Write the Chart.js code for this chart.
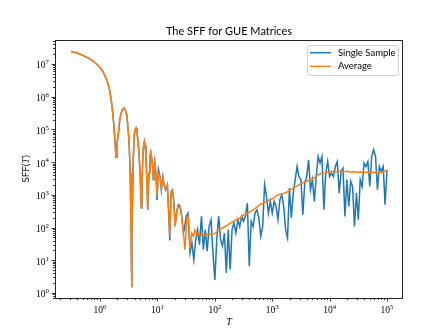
<!DOCTYPE html>
<html>
<head>
<meta charset="utf-8">
<script src="https://cdn.jsdelivr.net/npm/chart.js@4.4.0/dist/chart.umd.min.js"></script>
<style>
html, body { margin: 0; padding: 0; background: #fff; }
#wrap { width: 448px; height: 336px; }
</style>
</head>
<body>
<div id="wrap"><canvas id="sffChart" width="448" height="336"></canvas></div>
<script>
// early times: single sample and average lie on top of each other
const tEarly = [0.31, 0.4, 0.51, 0.63, 0.77, 0.9, 1.0, 1.1, 1.22, 1.33,
  1.44, 1.55, 1.64, 1.72, 1.78, 1.85, 1.9, 1.97, 2.09, 2.2,
  2.29, 2.45, 2.62, 2.8, 2.92, 3.05, 3.2, 3.35, 3.45, 3.53,
  3.56, 3.6, 3.7, 3.8, 3.95, 4.1, 4.24, 4.4, 4.6, 4.8,
  4.98, 5.15, 5.25, 5.37, 5.54, 5.7, 5.92, 6.1, 6.3, 6.55,
  6.76, 6.95, 7.14, 7.4, 7.64, 7.9, 8.17, 8.5, 8.7, 8.96,
  9.2, 9.46];
const sffEarly = [2.4e7, 2.15e7, 1.8e7, 1.5e7, 1.2e7, 9.5e6, 7.8e6, 6.2e6, 4.3e6, 3.0e6,
  1.9e6, 9e5, 4e5, 1.7e5, 7.6e4, 2.7e4, 1.4e4, 3.4e4, 7.6e4, 1.9e5,
  2.8e5, 4e5, 4.5e5, 3.6e5, 2.8e5, 1.2e5, 4.8e4, 4.6e3, 220, 6.5,
  1.5, 40, 1.5e3, 1.5e4, 6.8e4, 1e5, 1.1e5, 8e4, 4e4, 1.5e4,
  4.6e3, 890, 400, 1.8e3, 1.2e4, 3e4, 4.3e4, 3.2e4, 1.5e4, 2.9e3,
  350, 1.8e3, 4.6e3, 1.5e4, 2e4, 1.4e4, 7.4e3, 2.9e3, 6e3, 1.05e4,
  7e3, 3.6e3];

// single sample, later times
const tSampleLate = [9.84, 10.4, 11.1, 11.7, 12.4, 13, 13.9, 14.9, 15.7, 16.4,
  17.3, 18.2, 19.2, 20.3, 21.7, 23.2, 24.8, 26.5, 28.3, 29.5,
  31.62, 34.15, 36.87, 39.81, 42.99, 46.42, 50.12, 54.12, 58.43, 63.1,
  68.13, 73.56, 79.43, 85.77, 92.61, 100, 108, 116.6, 125.9, 135.9,
  146.8, 158.5, 171.1, 184.8, 199.5, 215.4, 232.6, 251.2, 271.2, 292.9,
  316.2, 341.5, 368.7, 398.1, 429.9, 464.2, 501.2, 541.2, 584.3, 631,
  681.3, 735.6, 794.3, 857.7, 926.1, 1000, 1080, 1166, 1259, 1359,
  1468, 1585, 1711, 1848, 1995, 2154, 2326, 2512, 2712, 2929,
  3162, 3415, 3687, 3981, 4299, 4642, 5012, 5412, 5843, 6310,
  6813, 7356, 7943, 8577, 9261, 10000, 10800, 11660, 12590, 13590,
  14680, 15850, 17110, 18480, 19950, 21540, 23260, 25120, 27120, 29290,
  31620, 34150, 36870, 39810, 42990, 46420, 50120, 54120, 58430, 63100,
  68130, 73560, 79430, 85770, 92610, 100000];
const sffSampleLate = [700, 5900, 3600, 1400, 3600, 2000, 1400, 2000, 275, 40,
  1260, 1400, 700, 110, 315, 500, 450, 220, 68, 90,
  219, 277, 17, 34, 10.4, 42, 86, 30, 219, 21,
  86, 19, 108, 173, 17, 2.5, 42, 219, 42, 27,
  68, 4.1, 86, 5.2, 86, 137, 68, 173, 108, 219,
  154, 219, 560, 6.5, 154, 108, 277, 350, 195, 54,
  108, 2000, 890, 277, 630, 277, 630, 440, 173, 705,
  1000, 440, 86, 48, 1600, 195, 1130, 2900, 7300, 3600,
  2900, 246, 2300, 3600, 11700, 1430, 2900, 630, 3600, 14800,
  9300, 14800, 350, 4600, 10400, 3600, 4600, 3600, 7300, 10400,
  1130, 5200, 6500, 219, 2900, 440, 2600, 1800, 108, 1130,
  173, 2900, 1800, 9300, 7300, 10400, 1800, 14800, 24000, 14800,
  1430, 7300, 5200, 7300, 500, 5800];

// average, later times
const tAverageLate = [9.84, 10.4, 11.1, 11.7, 12.4, 13, 13.9, 14.9, 15.7, 16.4,
  17.3, 18.2, 19.2, 20.3, 21.7, 23.2, 24.8, 26.5, 28.3, 30.2,
  32.3, 34.6, 37, 39.5, 42.3, 45, 48.3, 52, 56, 60,
  66, 72, 80, 88, 100, 110, 123, 140, 161, 185,
  211, 240, 275, 315, 360, 410, 470, 535, 610, 700,
  800, 920, 1050, 1200, 1370, 1570, 1790, 2050, 2340, 2680,
  3060, 3500, 4000, 4580, 5240, 6000, 6830, 7800, 8930, 10200,
  11700, 13400, 15300, 17500, 20000, 22900, 26200, 30000, 34300, 39200,
  44800, 51300, 58600, 67000, 76700, 87700, 95000, 100000];
const sffAverageLate = [900, 4500, 3300, 1600, 3000, 2200, 1500, 1900, 350, 55,
  1200, 1300, 650, 110, 300, 450, 420, 220, 70, 21,
  175, 220, 23, 68, 54, 85, 62, 70, 52, 66,
  58, 62, 60, 64, 66, 74, 89, 100, 113, 135,
  154, 175, 195, 240, 277, 300, 350, 420, 500, 560,
  630, 720, 790, 950, 1050, 1100, 1200, 1400, 1600, 1850,
  2100, 2400, 2600, 2900, 3200, 3800, 4400, 4600, 4800, 5100,
  5200, 5000, 5400, 5000, 5300, 4900, 5100, 4900, 5000, 4800,
  5000, 4800, 4900, 4800, 4900, 5000, 5600, 5300];

// tick labels (powers of ten)
const xTickValues = [1, 10, 100, 1000, 10000, 100000];
const yTickValues = [1, 10, 100, 1000, 10000, 100000, 1000000, 10000000];

const tSample = tEarly.concat(tSampleLate);
const sffSample = sffEarly.concat(sffSampleLate);
const tAverage = tEarly.concat(tAverageLate);
const sffAverage = sffEarly.concat(sffAverageLate);

function toPoints(xs, ys) {
  return xs.map(function (v, i) { return { x: v, y: ys[i] }; });
}

const BLUE = '#1f77b4';
const ORANGE = '#ff7f0e';
const SANS = 'Lato, "DejaVu Sans", sans-serif';
const SERIF = '"Liberation Serif", "DejaVu Serif", serif';

// "10" with a raised exponent
function drawPow(ctx, exp, x, baseY, align) {
  ctx.font = '9.5px ' + SERIF;
  var wb = ctx.measureText('10').width;
  ctx.font = '6.8px ' + SERIF;
  var we = ctx.measureText(String(exp)).width;
  var total = wb + we;
  var left = align === 'center' ? x - total / 2 : x - total;
  ctx.textAlign = 'left';
  ctx.textBaseline = 'alphabetic';
  ctx.font = '9.5px ' + SERIF;
  ctx.fillText('10', left, baseY);
  ctx.font = '6.8px ' + SERIF;
  ctx.fillText(String(exp), left + wb, baseY - 4.2);
}

function drawLogTicks(ctx, scale, horizontal, area) {
  var lo = Math.floor(Math.log10(scale.min));
  var hi = Math.ceil(Math.log10(scale.max));
  ctx.beginPath();
  for (var e = lo; e <= hi; e++) {
    for (var m = 1; m <= 9; m++) {
      var v = m * Math.pow(10, e);
      if (v < scale.min || v > scale.max) continue;
      var p = Math.round(scale.getPixelForValue(v)) + 0.5;
      var len = m === 1 ? 3.5 : 2;
      if (horizontal) {
        ctx.moveTo(p, area.bottom);
        ctx.lineTo(p, area.bottom + len);
      } else {
        ctx.moveTo(area.left, p);
        ctx.lineTo(area.left - len, p);
      }
    }
  }
  ctx.stroke();
}

const decorPlugin = {
  id: 'decor',
  afterDatasetsDraw: function (chart) {
    var ctx = chart.ctx, a = chart.chartArea;
    var xs = chart.scales.x, ys = chart.scales.y;
    ctx.save();
    ctx.fillStyle = '#000';
    ctx.strokeStyle = '#000';
    ctx.lineWidth = 0.8;
    // ticks
    drawLogTicks(ctx, xs, true, a);
    drawLogTicks(ctx, ys, false, a);
    // frame
    ctx.lineWidth = 1;
    ctx.strokeStyle = '#222';
    ctx.strokeRect(Math.round(a.left) + 0.5, Math.round(a.top) + 0.5,
      Math.round(a.right - a.left) - 1, Math.round(a.bottom - a.top));

    // tick labels
    xTickValues.forEach(function (v) {
      drawPow(ctx, Math.round(Math.log10(v)), xs.getPixelForValue(v), a.bottom + 15, 'center');
    });
    yTickValues.forEach(function (v) {
      drawPow(ctx, Math.round(Math.log10(v)), a.left - 6, ys.getPixelForValue(v) + 4.5, 'right');
    });

    // title
    ctx.textAlign = 'center';
    ctx.textBaseline = 'middle';
    ctx.font = '11px ' + SANS;
    ctx.fillText('The SFF for GUE Matrices', (a.left + a.right) / 2, 31);

    // x label
    ctx.font = 'italic 10px ' + SERIF;
    ctx.fillText('T', (a.left + a.right) / 2, 322);

    // y label: SFF(T)
    ctx.save();
    ctx.translate(26, (a.top + a.bottom) / 2);
    ctx.rotate(-Math.PI / 2);
    ctx.textAlign = 'left';
    var p1 = 'SFF(', p2 = 'T', p3 = ')';
    ctx.font = '9.7px ' + SANS;
    var w1 = ctx.measureText(p1).width, w3 = ctx.measureText(p3).width;
    ctx.font = 'italic 9.7px ' + SERIF;
    var w2 = ctx.measureText(p2).width;
    var sx = -(w1 + w2 + w3) / 2;
    ctx.font = '9.7px ' + SANS;
    ctx.fillText(p1, sx, 0);
    ctx.font = 'italic 9.7px ' + SERIF;
    ctx.fillText(p2, sx + w1, 0);
    ctx.font = '9.7px ' + SANS;
    ctx.fillText(p3, sx + w1 + w2 + 0.5, 0);
    ctx.restore();

    // legend
    var lx = 307.5, ly = 45.5, lw = 91, lh = 30;
    ctx.beginPath();
    ctx.roundRect(lx, ly, lw, lh, 2.5);
    ctx.fillStyle = 'rgba(255,255,255,0.8)';
    ctx.fill();
    ctx.strokeStyle = '#d0d0d0';
    ctx.lineWidth = 1;
    ctx.stroke();
    var rows = [['Single Sample', BLUE, 52.7], ['Average', ORANGE, 66.3]];
    rows.forEach(function (r) {
      ctx.strokeStyle = r[1];
      ctx.lineWidth = 1.5;
      ctx.beginPath();
      ctx.moveTo(310, r[2]);
      ctx.lineTo(331, r[2]);
      ctx.stroke();
      ctx.fillStyle = '#000';
      ctx.font = '9.5px ' + SANS;
      ctx.textAlign = 'left';
      ctx.textBaseline = 'middle';
      ctx.fillText(r[0], 338, r[2]);
    });
    ctx.restore();
  }
};

new Chart(document.getElementById('sffChart'), {
  type: 'line',
  data: {
    datasets: [{
      label: 'Single Sample',
      data: toPoints(tSample, sffSample),
      borderColor: BLUE,
      borderWidth: 1.5,
      pointRadius: 0,
      fill: false,
      tension: 0,
      order: 1
    }, {
      label: 'Average',
      data: toPoints(tAverage, sffAverage),
      borderColor: ORANGE,
      borderWidth: 1.5,
      pointRadius: 0,
      fill: false,
      tension: 0,
      order: 0
    }]
  },
  options: {
    responsive: false,
    animation: false,
    devicePixelRatio: 1,
    layout: { padding: { top: 40, right: 45, left: 0, bottom: 0 } },
    plugins: {
      legend: { display: false },
      title: { display: false },
      tooltip: { enabled: false }
    },
    scales: {
      x: {
        type: 'logarithmic',
        min: 0.164,
        max: 190000,
        grid: { display: false },
        border: { display: false },
        ticks: { display: false },
        afterFit: function (s) { s.height = 38; }
      },
      y: {
        type: 'logarithmic',
        min: 0.72,
        max: 5.4e7,
        grid: { display: false },
        border: { display: false },
        ticks: { display: false },
        afterFit: function (s) { s.width = 55; }
      }
    }
  },
  plugins: [decorPlugin]
});
</script>
</body>
</html>
